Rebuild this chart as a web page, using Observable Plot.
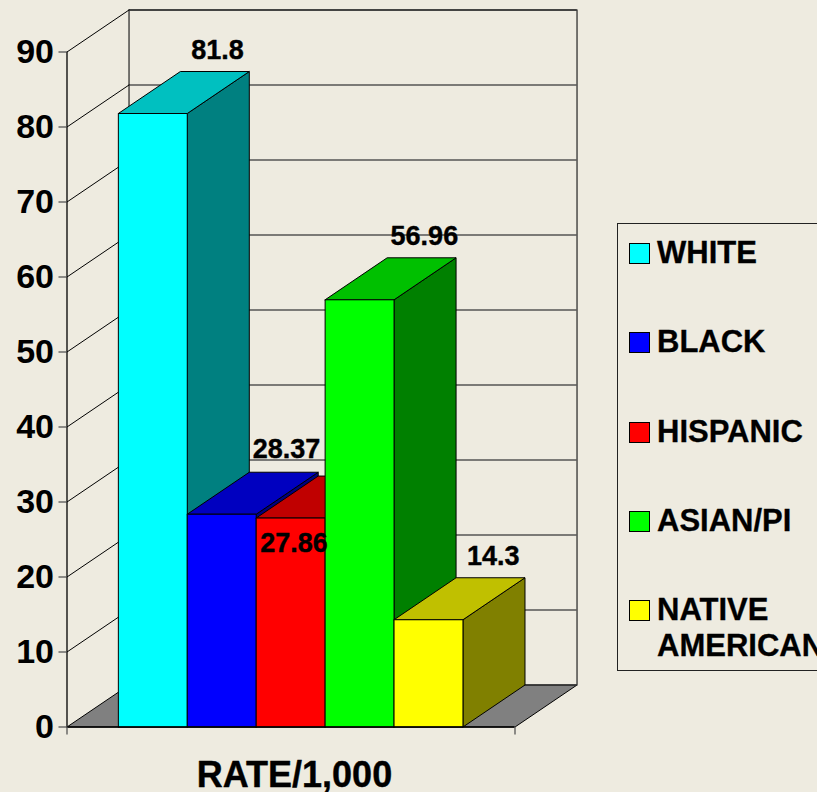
<!DOCTYPE html>
<html>
<head>
<meta charset="utf-8">
<script src="https://cdn.jsdelivr.net/npm/d3@7"></script>
<script src="https://cdn.jsdelivr.net/npm/@observablehq/plot@0.6"></script>
<style>
  html, body { margin: 0; padding: 0; background: #EEEBE0; overflow: hidden; width: 817px; height: 792px; }
  body { position: relative; font-family: "Liberation Sans", Arial, sans-serif; }
  #legend { position: absolute; left: 617px; top: 223px; width: 220px; height: 448px; box-sizing: border-box;
            border: 1px solid #222; }
  .item { position: absolute; left: 11px; font-size: 31px; font-weight: bold; line-height: 36px; color: #000; padding-left: 28px; white-space: nowrap; -webkit-text-stroke: 0.3px #000; }
  .sw { position: absolute; left: 0; top: 8px; width: 19px; height: 19px; border: 1px solid #000; }
</style>
</head>
<body>
<div id="chart"></div>
<div id="legend"></div>
<script>
const groups   = ["WHITE", "BLACK", "HISPANIC", "ASIAN/PI", "NATIVE AMERICAN"];
const rates    = [81.8, 28.37, 27.86, 56.96, 14.3];
const fronts   = ["#00FFFF", "#0000FF", "#FF0000", "#00FF00", "#FFFF00"];
const tops     = ["#00C0C0", "#0000C0", "#C00000", "#00C000", "#C0C000"];
const sides    = ["#008080", "#000080", "#800000", "#008000", "#808000"];
const yTicks   = [0, 10, 20, 30, 40, 50, 60, 70, 80, 90];

// Oblique projection, in scale units
const depthX = 0.9, depthY = 5.6;   // depth vector of the 3D box
const xMax = 6.5, gap = 0.745;      // category axis extent, space before first bar
const yMax = 90;

const poly = (id, c, pts) => pts.concat([pts[0]]).map(([x, y]) => ({id, c, x, y}));

// floor and walls
const floor = poly("floor", "#808080", [[0, 0], [xMax, 0], [xMax + depthX, depthY], [depthX, depthY]]);
const wall  = poly("wall", "none", [[depthX, depthY], [xMax + depthX, depthY], [xMax + depthX, yMax + depthY], [depthX, yMax + depthY]]);
const grid  = yTicks.slice(1).map(v => ({x1: depthX, x2: xMax + depthX, y: v + depthY}));
const diag  = yTicks.slice(1).flatMap(v => [{id: v, x: 0, y: v}, {id: v, x: depthX, y: v + depthY}]);

// bars, painted from left to right so that each one hides the previous side face
const faces = groups.flatMap((g, i) => {
  const l = gap + i, r = l + 1, v = rates[i];
  return [
    ...poly(g + "-side",  sides[i],  [[r, 0], [r + depthX, depthY], [r + depthX, v + depthY], [r, v]]),
    ...poly(g + "-top",   tops[i],   [[l, v], [r, v], [r + depthX, v + depthY], [l + depthX, v + depthY]]),
    ...poly(g + "-front", fronts[i], [[l, 0], [r, 0], [r, v], [l, v]])
  ];
});

const labelUp = {dx: 0.94, dy: 8.4};
const labelBlack = {dx: 0.94, dy: 8.7};
const labelDown = {dx: 0.05, dy: -3.4};
const labels = groups.map((g, i) => {
  const o = g === "HISPANIC" ? labelDown : g === "BLACK" ? labelBlack : labelUp;
  return {text: String(rates[i]), x: gap + i + 0.5 + o.dx, y: rates[i] + o.dy};
});

const heavy = {stroke: "#000", strokeWidth: 0.4};

const chart = Plot.plot({
  width: 817,
  height: 792,
  marginLeft: 66.5,
  marginRight: 302.5,
  marginTop: 51.5,
  marginBottom: 65.5,
  style: {background: "transparent", fontFamily: "'Liberation Sans', Arial, sans-serif"},
  x: {domain: [0, xMax]},
  y: {domain: [0, yMax]},
  marks: [
    Plot.line(floor, {x: "x", y: "y", z: "id", fill: "#808080", stroke: "#000", strokeWidth: 1}),
    Plot.ruleY(grid, {x1: "x1", x2: "x2", y: "y", stroke: "#555", strokeWidth: 1.3}),
    Plot.line(wall, {x: "x", y: "y", z: "id", stroke: "#333", strokeWidth: 1.3}),
    Plot.line(diag, {x: "x", y: "y", z: "id", stroke: "#000", strokeWidth: 1}),
    Plot.ruleX([0], {y1: 0, y2: yMax, stroke: "#000", strokeWidth: 1.3}),
    Plot.line(faces, {x: "x", y: "y", z: "id", fill: {value: "c", scale: null}, stroke: "#000", strokeWidth: 1}),
    Plot.ruleY([0], {x1: 0, x2: xMax, stroke: "#000", strokeWidth: 1.6}),
    Plot.text(labels, {x: "x", y: "y", text: "text", fontSize: 27, fontWeight: "bold", fill: "#000", ...heavy}),
    Plot.axisY({ticks: yTicks, tickSize: 8, tickPadding: 5, fontSize: 34, fontWeight: "bold", fill: "#000", stroke: "#555", strokeWidth: 1.3, label: null}),
    Plot.axisX({ticks: [0, xMax], tickSize: 8, tickFormat: () => "", stroke: "#555", strokeWidth: 1.3}),
    Plot.text(["RATE/1,000"], {x: () => xMax / 2 + 0.05, y: () => -6.4, text: d => d, fontSize: 36, fontWeight: "bold", fill: "#000", ...heavy})
  ]
});
document.getElementById("chart").appendChild(chart);

// legend
const legend = document.getElementById("legend");
const legendStep = 89.25;
groups.forEach((g, i) => {
  const item = document.createElement("div");
  item.className = "item";
  item.style.top = (11 + i * legendStep) + "px";
  item.innerHTML = `<span class="sw" style="background:${fronts[i]}"></span>` + g.replace("NATIVE ", "NATIVE<br>");
  legend.appendChild(item);
});
</script>
</body>
</html>
